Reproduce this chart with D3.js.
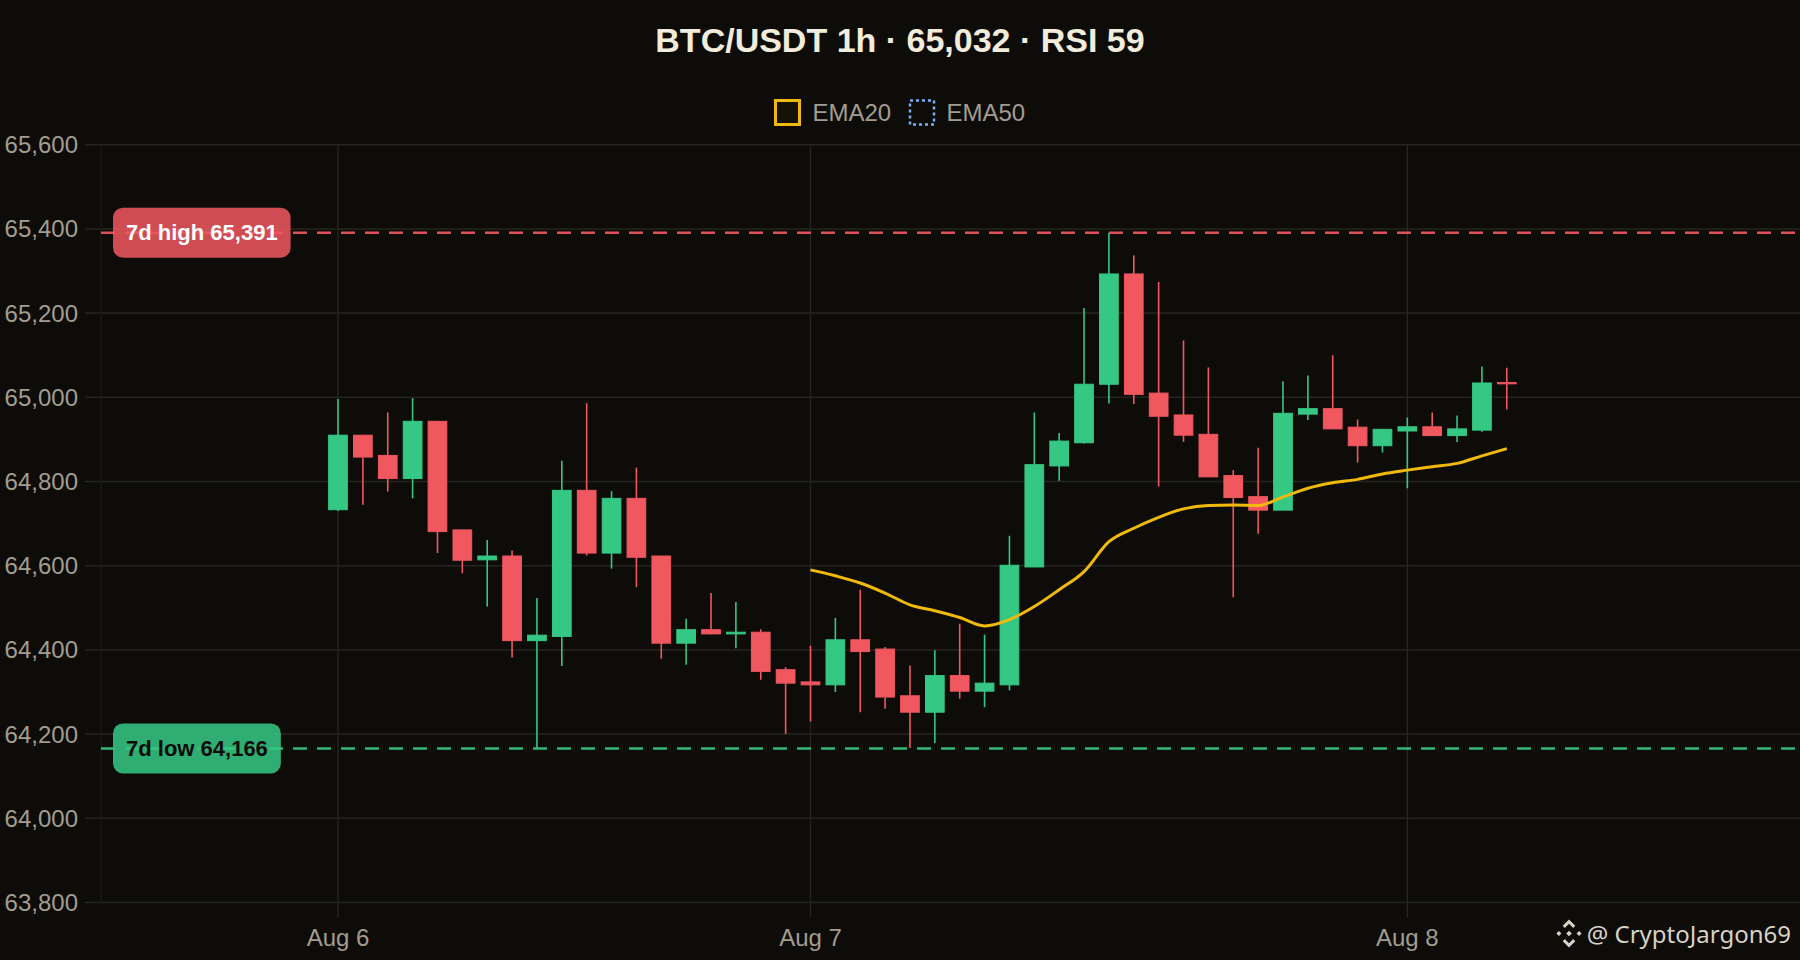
<!DOCTYPE html>
<html>
<head>
<meta charset="utf-8">
<script src="https://cdn.jsdelivr.net/npm/d3@7"></script>
<style>
  html, body { margin: 0; padding: 0; background: #0d0c09; }
  svg { display: block; }
</style>
</head>
<body>
<svg id="chart" width="1800" height="960"></svg>
<script>
// ---------- DATA ----------
const titleText = "BTC/USDT 1h · 65,032 · RSI 59";
const dayTickLabels = ["Aug 6", "Aug 7", "Aug 8"];
const dayTickIndex = [0, 19, 43];
const yTicks = [63800, 64000, 64200, 64400, 64600, 64800, 65000, 65200, 65400, 65600];

const opens  = [64733, 64910, 64862, 64807, 64943, 64685, 64614, 64623, 64422, 64432,
                64779, 64630, 64760, 64623, 64416, 64448, 64438, 64442, 64353, 64324,
                64317, 64424, 64402, 64291, 64252, 64339, 64302, 64317, 64597, 64837,
                64892, 65031, 65293, 65010, 64958, 64912, 64814, 64764, 64732, 64960,
                64973, 64929, 64885, 64920, 64930, 64909, 64922, 65035];
const highs  = [64996, 64910, 64964, 64998, 64943, 64685, 64661, 64636, 64523, 64849,
                64986, 64777, 64833, 64623, 64474, 64535, 64514, 64449, 64359, 64410,
                64476, 64543, 64407, 64363, 64399, 64462, 64436, 64671, 64964, 64915,
                65212, 65391, 65337, 65274, 65135, 65071, 64827, 64880, 65038, 65052,
                65100, 64947, 64924, 64952, 64964, 64957, 65073, 65070];
const lows   = [64730, 64745, 64776, 64760, 64630, 64582, 64503, 64382, 64166, 64362,
                64624, 64593, 64549, 64379, 64365, 64437, 64404, 64329, 64200, 64230,
                64300, 64252, 64260, 64167, 64179, 64284, 64264, 64304, 64597, 64802,
                64890, 64985, 64984, 64788, 64894, 64811, 64525, 64676, 64732, 64946,
                64925, 64845, 64869, 64784, 64909, 64894, 64918, 64971];
const closes = [64910, 64858, 64807, 64943, 64681, 64613, 64623, 64422, 64435, 64779,
                64630, 64760, 64620, 64416, 64448, 64438, 64442, 64349, 64321, 64317,
                64424, 64396, 64288, 64252, 64339, 64302, 64321, 64601, 64840, 64896,
                65031, 65293, 65007, 64955, 64910, 64811, 64762, 64732, 64962, 64973,
                64925, 64885, 64924, 64930, 64909, 64925, 65034, 65032];
// EMA20 starts at candle 19 (first value needs 20 candles)
const ema20Start = 19;
const ema20 = [64590, 64576, 64559, 64535, 64507, 64493, 64477, 64457, 64472, 64503,
               64543, 64586, 64657, 64689, 64715, 64735, 64743, 64744, 64743, 64763,
               64784, 64797, 64805, 64818, 64827, 64835, 64843, 64861, 64878];
const levelNames  = ["7d high 65,391", "7d low 64,166"];
const levelValues = [65391, 64166];
const legendNames = ["EMA20", "EMA50"];
const watermark = "@ CryptoJargon69";

// ---------- STYLE ----------
const C = {
  bg: "#0d0c09", grid: "#26241f", axisText: "#a39d8f", title: "#f2ecdc",
  up: "#35c884", down: "#f0575f", ema20: "#f0b90b", ema50: "#7aaef0",
  wm: "#d8d2c4"
};
const FONT = "'Liberation Sans', Arial, sans-serif";

const svg = d3.select("#chart");
svg.append("rect").attr("width", 1800).attr("height", 960).attr("fill", C.bg);

const plot = { left: 101, right: 1800, top: 144.7, bottom: 902.5 };
const x = d3.scaleLinear().domain([-9.53, 58.79]).range([plot.left, plot.right]);
const y = d3.scaleLinear().domain([63800, 65600]).range([plot.bottom, plot.top]);

// ---------- GRID ----------
const g = svg.append("g");
g.selectAll(".hg").data(yTicks).join("line")
  .attr("x1", 85).attr("x2", plot.right)
  .attr("y1", d => y(d)).attr("y2", d => y(d))
  .attr("stroke", C.grid).attr("stroke-width", 1.5);
g.append("line").attr("x1", plot.left).attr("x2", plot.left)
  .attr("y1", plot.top).attr("y2", plot.bottom)
  .attr("stroke", "#191813").attr("stroke-width", 1.5);
g.selectAll(".vg").data(dayTickIndex).join("line")
  .attr("x1", d => x(d)).attr("x2", d => x(d))
  .attr("y1", plot.top).attr("y2", plot.bottom + 15)
  .attr("stroke", C.grid).attr("stroke-width", 1.5);

// y labels
g.selectAll(".yl").data(yTicks).join("text")
  .attr("x", 78).attr("y", d => y(d)).attr("dy", "0.35em")
  .attr("text-anchor", "end").attr("font-family", FONT).attr("font-size", 24)
  .attr("fill", C.axisText).text(d => d3.format(",")(d));
// x labels
g.selectAll(".xl").data(dayTickIndex).join("text")
  .attr("x", d => x(d)).attr("y", 946)
  .attr("text-anchor", "middle").attr("font-family", FONT).attr("font-size", 24)
  .attr("fill", C.axisText).text((d, i) => dayTickLabels[i]);

// ---------- LEVEL LINES ----------
const levelColors = [C.down, C.up];
svg.selectAll(".lvl").data(levelValues).join("line")
  .attr("x1", plot.left).attr("x2", plot.right)
  .attr("y1", d => y(d)).attr("y2", d => y(d))
  .attr("stroke", (d, i) => levelColors[i]).attr("stroke-opacity", 0.92)
  .attr("stroke-width", 2.5).attr("stroke-dasharray", "14,10");

// ---------- CANDLES ----------
const idx = d3.range(opens.length);
const bodyW = 18.7;
const cg = svg.append("g");
cg.selectAll(".wick").data(idx).join("line")
  .attr("x1", i => x(i)).attr("x2", i => x(i))
  .attr("y1", i => y(highs[i])).attr("y2", i => y(lows[i]))
  .attr("stroke", i => closes[i] >= opens[i] ? C.up : C.down)
  .attr("stroke-width", 1.6);
cg.selectAll(".body").data(idx).join("rect")
  .attr("x", i => x(i) - bodyW / 2).attr("width", bodyW)
  .attr("y", i => y(Math.max(opens[i], closes[i])))
  .attr("height", i => Math.max(0.5, Math.abs(y(opens[i]) - y(closes[i]))))
  .attr("fill", i => closes[i] >= opens[i] ? C.up : C.down)
  .attr("stroke", i => closes[i] >= opens[i] ? C.up : C.down)
  .attr("stroke-width", 1);

// ---------- EMA20 ----------
const line = d3.line()
  .x((d, k) => x(ema20Start + k)).y(d => y(d))
  .curve(d3.curveMonotoneX);
svg.append("path").datum(ema20).attr("d", line)
  .attr("fill", "none").attr("stroke", C.ema20).attr("stroke-width", 3)
  .attr("stroke-linejoin", "round");

// ---------- LEVEL LABELS ----------
const labelTextColors = ["#ffffff", "#0d0c09"];
levelValues.forEach((v, i) => {
  const lg = svg.append("g");
  const t = lg.append("text")
    .attr("x", 113 + 13).attr("y", y(v)).attr("dy", "0.35em")
    .attr("font-family", FONT).attr("font-size", 22).attr("font-weight", "bold")
    .attr("fill", labelTextColors[i]).text(levelNames[i]);
  const w = t.node().getComputedTextLength();
  lg.insert("rect", "text")
    .attr("x", 113).attr("y", y(v) - 25).attr("width", w + 26).attr("height", 50)
    .attr("rx", 10).attr("fill", levelColors[i]).attr("fill-opacity", 0.86);
});

// ---------- TITLE ----------
svg.append("text").attr("x", 900).attr("y", 52).attr("text-anchor", "middle")
  .attr("font-family", FONT).attr("font-size", 34).attr("font-weight", "bold")
  .attr("fill", C.title).text(titleText);

// ---------- LEGEND ----------
const leg = svg.append("g");
leg.append("rect").attr("x", 775.5).attr("y", 100.5).attr("width", 24).attr("height", 24)
  .attr("fill", "rgba(240,185,11,0.04)").attr("stroke", C.ema20).attr("stroke-width", 3);
leg.append("text").attr("x", 812.5).attr("y", 121).attr("font-family", FONT)
  .attr("font-size", 24).attr("fill", C.axisText).text(legendNames[0]);
leg.append("rect").attr("x", 910).attr("y", 100.5).attr("width", 24).attr("height", 24)
  .attr("fill", "none").attr("stroke", C.ema50).attr("stroke-width", 2.5)
  .attr("stroke-dasharray", "3,3");
leg.append("text").attr("x", 946.5).attr("y", 121).attr("font-family", FONT)
  .attr("font-size", 24).attr("fill", C.axisText).text(legendNames[1]);

// ---------- WATERMARK ----------
const wmg = svg.append("g").attr("transform", "translate(1569,933.5)");
const s = 14;
const polys = [
  [[0,-1],[0.45,-0.55],[0.3,-0.4],[0,-0.7],[-0.3,-0.4],[-0.45,-0.55]],
  [[0,1],[0.45,0.55],[0.3,0.4],[0,0.7],[-0.3,0.4],[-0.45,0.55]],
  [[-0.72,-0.18],[-0.54,0],[-0.72,0.18],[-0.9,0]],
  [[0.72,-0.18],[0.9,0],[0.72,0.18],[0.54,0]],
  [[0,-0.2],[0.2,0],[0,0.2],[-0.2,0]]
];
wmg.selectAll("polygon").data(polys).join("polygon")
  .attr("points", p => p.map(q => (q[0]*s) + "," + (q[1]*s)).join(" "))
  .attr("fill", C.wm);
svg.append("text").attr("x", 1791).attr("y", 942.7).attr("text-anchor", "end")
  .attr("font-family", "'Noto Sans', 'Open Sans', sans-serif").attr("font-size", 24)
  .attr("fill", C.wm).text(watermark);
</script>
</body>
</html>
